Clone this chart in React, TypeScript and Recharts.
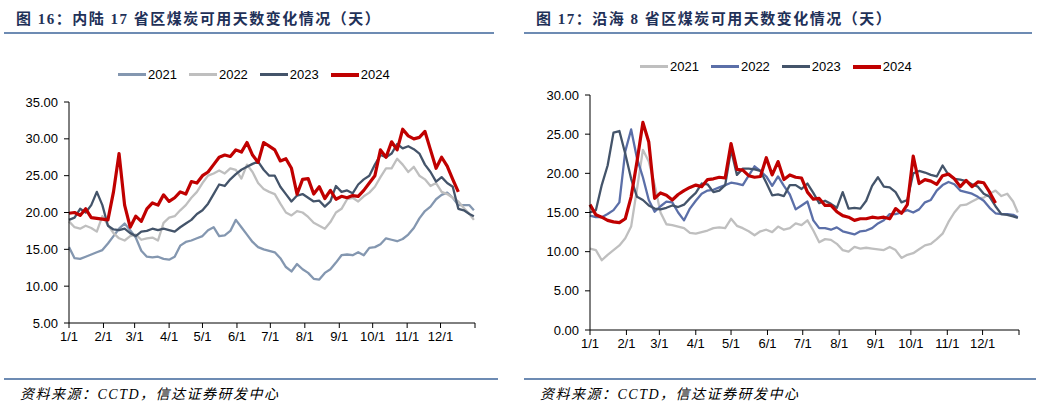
import React from 'react';
import { LineChart, Line, XAxis, YAxis } from 'recharts';

// day of year, sampled every 5 days
const days = [
  0, 5, 10, 15, 20, 25, 30, 35, 40, 45, 50, 55, 60, 65, 70, 75, 80, 85, 90, 95,
  100, 105, 110, 115, 120, 125, 130, 135, 140, 145, 150, 155, 160, 165, 170, 175, 180, 185, 190, 195,
  200, 205, 210, 215, 220, 225, 230, 235, 240, 245, 250, 255, 260, 265, 270, 275, 280, 285, 290, 295,
  300, 305, 310, 315, 320, 325, 330, 335, 340, 345, 350, 355, 360, 364,
];

const monthTicks = [0, 31, 59, 90, 120, 151, 181, 212, 243, 273, 304, 334, 365];
const monthLabels = ['1/1', '2/1', '3/1', '4/1', '5/1', '6/1', '7/1', '8/1', '9/1', '10/1', '11/1', '12/1', ''];
const years = ['2021', '2022', '2023', '2024'];

// 内陆17省
const inland2021 = [
  15.3, 13.8, 13.7, 14.0, 14.3, 14.6, 14.9, 15.8, 16.8, 17.8, 18.5, 17.6, 16.6, 14.8, 14.0, 13.9, 14.0, 13.7, 13.6, 14.0,
  15.5, 16.0, 16.2, 16.5, 16.8, 17.6, 18.0, 16.8, 16.9, 17.5, 19.0, 18.0, 17.0, 16.0, 15.3, 15.0, 14.8, 14.6, 13.8, 12.6,
  12.0, 13.0, 12.3, 11.8, 11.0, 10.9, 11.8, 12.3, 13.2, 14.2, 14.3, 14.2, 14.6, 14.2, 15.2, 15.3, 15.7, 16.5, 16.3, 16.1,
  16.4, 17.0, 17.9, 19.2, 20.2, 20.8, 21.8, 22.4, 22.7, 22.0, 21.0, 21.0, 21.0, 20.3,
];
const inland2022 = [
  18.8, 18.0, 17.8, 18.2, 17.9, 17.4, 19.5, 18.3, 17.2, 16.5, 16.2, 16.8, 17.0, 16.3, 16.5, 16.6, 16.2, 18.6, 19.3, 19.5,
  20.3, 21.0, 22.0, 22.8, 24.0, 25.0, 25.3, 25.7, 25.3, 26.0, 25.8, 24.6, 26.5, 25.5, 24.0, 23.2, 22.8, 22.5, 21.2, 20.0,
  19.6, 20.2, 20.0, 19.4, 18.6, 18.2, 17.8, 18.7, 20.0, 20.5, 21.8, 22.0, 21.5, 22.2, 22.7, 23.5, 24.8, 26.0, 26.0, 27.3,
  26.5, 25.5, 26.2, 25.0, 24.5, 23.6, 24.0, 22.8, 22.5, 22.0, 21.5, 20.6, 19.8, 19.0,
];
const inland2023 = [
  19.0, 19.3, 20.5, 20.0, 21.0, 22.8, 21.0, 18.2, 17.7, 17.6, 17.8, 17.2, 16.8, 17.4, 17.5, 17.8, 17.6, 17.8, 17.6, 17.4,
  18.0, 18.5, 19.0, 19.8, 20.3, 21.2, 22.5, 23.8, 23.6, 24.5, 25.2, 25.8, 26.2, 26.6, 26.9, 25.8, 25.0, 25.0, 23.5, 22.5,
  21.5, 22.3, 22.5, 22.0, 21.5, 21.6, 20.8, 21.5, 23.6, 22.8, 23.0, 22.6, 23.8, 24.5, 25.0, 26.5, 27.8, 27.5, 28.0, 29.3,
  28.7, 29.0, 28.6, 28.0, 26.5, 25.5, 24.2, 24.8, 24.0, 23.5, 20.5, 20.3, 19.8, 19.5,
];
const inland2024 = [
  19.9, 20.0, 19.6, 20.5, 19.3, 19.2, 19.1, 19.0, 22.8, 28.0, 21.0, 18.0, 19.5, 18.8, 20.5, 21.3, 21.0, 22.4, 21.5, 22.0,
  22.8, 22.5, 24.2, 24.0, 25.0, 25.5, 26.5, 27.5, 27.8, 27.6, 28.5, 28.2, 29.5, 27.8, 26.8, 29.5, 29.0, 28.5, 27.0, 27.3,
  26.0, 22.5, 24.5, 24.6, 22.5, 23.5, 21.9, 23.0, 21.8, 22.2, 22.0, 22.3, 22.2, 23.0, 24.0, 25.0, 28.5, 27.5, 29.6, 28.5,
  31.3, 30.4, 30.0, 30.2, 31.0, 28.5, 26.0, 27.5, 26.3, 24.5, 22.8, null, null, null,
];

// 沿海8省
const coastal2021 = [
  10.4, 10.2, 8.9, 9.6, 10.2, 10.8, 11.7, 13.2, 18.0, 23.0, 21.5, 18.5, 15.0, 13.5, 13.4, 13.2, 13.0, 12.4, 12.3, 12.5,
  12.7, 13.0, 13.1, 13.0, 14.2, 13.3, 13.0, 12.6, 12.1, 12.6, 12.8, 12.5, 13.2, 12.8, 13.0, 13.6, 13.4, 14.0, 12.7, 11.2,
  11.6, 11.5, 11.0, 10.2, 10.0, 10.6, 10.4, 10.5, 10.4, 10.3, 10.2, 10.6, 10.2, 9.2, 9.6, 9.8, 10.3, 10.8, 11.0, 11.6,
  12.3, 13.8, 15.0, 15.9, 16.0, 16.4, 16.8, 16.9, 17.4, 17.8, 17.1, 17.4, 16.4, 15.0,
];
const coastal2022 = [
  14.6, 14.4, 14.4, 14.8, 15.3, 16.3, 22.8, 25.6, 21.9, 19.5, 16.6, 15.1, 15.8, 16.4, 16.3, 15.0, 14.0, 15.5, 16.5, 17.4,
  17.8, 17.9, 18.2, 18.5, 18.8, 18.7, 18.5, 19.7, 20.9, 20.3, 19.6, 18.4, 19.6, 18.4, 17.3, 15.4, 15.9, 16.4, 14.0, 13.0,
  13.0, 12.8, 13.1, 12.6, 12.4, 12.2, 12.6, 12.7, 13.0, 13.6, 14.0, 14.8, 14.8, 15.0, 15.3, 15.0, 15.4, 16.3, 16.6, 17.8,
  18.5, 18.9, 18.6, 17.8, 17.6, 17.4, 17.0, 16.5, 15.6, 14.9, 14.8, 14.8, 14.7, 14.4,
];
const coastal2023 = [
  15.0, 15.3, 18.5, 21.0, 25.2, 25.4, 22.5, 19.3, 17.0, 16.6, 15.9, 15.5, 15.4, 15.6, 15.9, 15.7, 16.0, 16.8, 17.5, 18.7,
  18.6, 17.6, 17.8, 18.5, 23.0, 19.8, 20.6, 20.6, 20.5, 20.3, 18.8, 17.2, 17.3, 17.1, 18.5, 18.5, 18.0, 18.7, 17.5, 16.2,
  16.5, 16.1, 15.6, 17.6, 15.5, 15.6, 15.5, 16.5, 18.4, 19.5, 18.3, 18.2, 17.6, 16.3, 16.6, 20.0, 20.3, 20.1, 19.8, 19.6,
  21.0, 19.8, 19.3, 19.2, 19.0, 18.6, 18.3, 17.4, 17.0, 15.8, 14.8, 14.7, 14.5, 14.3,
];
const coastal2024 = [
  16.0, 14.7, 14.4, 14.0, 13.8, 13.7, 14.2, 17.0, 21.5, 26.5, 24.0, 16.8, 17.5, 17.2, 16.6, 17.3, 17.8, 18.2, 18.5, 18.3,
  19.2, 19.3, 19.5, 19.4, 23.8, 20.5, 20.4, 19.7, 19.5, 19.6, 22.0, 19.8, 21.5, 19.2, 19.8, 19.5, 19.4, 17.6, 16.7, 16.8,
  15.9, 15.9, 15.1, 14.6, 14.4, 14.0, 14.2, 14.2, 14.4, 14.3, 14.4, 14.2, 15.5, 14.9, 16.0, 22.2, 18.7, 19.2, 19.0, 18.6,
  19.7, 19.9, 19.3, 18.3, 19.1, 18.3, 18.9, 18.8, 17.6, 16.2, null, null, null, null,
];

const inlandColors = ['#8497B0', '#BFBFBF', '#44546A', '#C00000'];
const coastalColors = ['#BFBFBF', '#5B6FA8', '#44546A', '#C00000'];

const axisFont = "'Liberation Sans', Arial, sans-serif";
const cjkSerif = "'Liberation Serif', 'Noto Sans CJK SC', serif";

function buildRows(series: (number | null)[][]) {
  return days.map((d, i) => {
    const row: Record<string, number | null> = { day: d };
    series.forEach((s, k) => {
      row['y' + k] = s[i];
    });
    return row;
  });
}

type PanelProps = {
  left: number;
  width: number;
  title: string;
  series: (number | null)[][];
  colors: string[];
  yDomain: [number, number];
  yTicks: number[];
  margin: { top: number; right: number; bottom: number; left: number };
  yWidth: number;
  legendLeft: number;
  legendTop: number;
};

function Panel(p: PanelProps) {
  const rows = buildRows(p.series);
  return (
    <div style={{ position: 'absolute', left: p.left, top: 0, width: p.width, height: 406 }}>
      <div
        style={{
          position: 'absolute',
          left: 16,
          top: 7,
          fontFamily: cjkSerif,
          fontWeight: 700,
          fontSize: 15,
          letterSpacing: 1.5,
          color: '#1F3158',
          whiteSpace: 'nowrap',
        }}
      >
        {p.title}
      </div>
      <div style={{ position: 'absolute', left: 4, top: 32, width: p.width - 12, height: 2, background: '#6D8BB3' }} />

      <div
        style={{
          position: 'absolute',
          left: p.legendLeft,
          top: p.legendTop,
          display: 'flex',
          gap: 12,
          fontFamily: axisFont,
          fontSize: 13,
          color: '#000',
        }}
      >
        {years.map((y, k) => (
          <div key={y} style={{ display: 'flex', alignItems: 'center', gap: 2 }}>
            <div style={{ width: 28, height: k === 3 ? 4 : 3, background: p.colors[k] }} />
            <span>{y}</span>
          </div>
        ))}
      </div>

      <LineChart width={p.width} height={406} data={rows} margin={p.margin}>
        <XAxis
          dataKey="day"
          type="number"
          domain={[0, 365]}
          ticks={monthTicks}
          interval={0}
          tickFormatter={(v: number) => monthLabels[monthTicks.indexOf(v)]}
          height={30}
          stroke="#000"
          tickSize={5}
          tickMargin={4}
          tick={{ fill: '#000', fontSize: 13, fontFamily: axisFont }}
        />
        <YAxis
          type="number"
          domain={p.yDomain}
          ticks={p.yTicks}
          interval={0}
          tickFormatter={(v: number) => v.toFixed(2)}
          width={p.yWidth}
          stroke="#000"
          tickSize={5}
          tickMargin={6}
          tick={{ fill: '#000', fontSize: 13, fontFamily: axisFont }}
        />
        {years.map((y, k) => (
          <Line
            key={y}
            dataKey={'y' + k}
            name={y}
            type="linear"
            stroke={p.colors[k]}
            strokeWidth={k === 3 ? 3.2 : 2.3}
            strokeLinejoin="round"
            dot={false}
            isAnimationActive={false}
          />
        ))}
      </LineChart>

      <div style={{ position: 'absolute', left: 4, top: 378, width: p.width - 8, height: 2, background: '#6D8BB3' }} />
      <div
        style={{
          position: 'absolute',
          left: 20,
          top: 383,
          fontFamily: cjkSerif,
          fontStyle: 'italic',
          fontSize: 14,
          letterSpacing: 1.5,
          color: '#000',
          whiteSpace: 'nowrap',
        }}
      >
        资料来源：CCTD，信达证券研发中心
      </div>
    </div>
  );
}

export default function App() {
  return (
    <div
      style={{
        position: 'absolute',
        left: 0,
        top: 0,
        width: 1040,
        height: 406,
        background: '#fff',
        overflow: 'hidden',
      }}
    >
      <Panel
        left={0}
        width={502}
        title="图 16：内陆 17 省区煤炭可用天数变化情况（天）"
        series={[inland2021, inland2022, inland2023, inland2024]}
        colors={inlandColors}
        yDomain={[5, 35]}
        yTicks={[5, 10, 15, 20, 25, 30, 35]}
        margin={{ top: 102, right: 27, bottom: 53, left: 0 }}
        yWidth={69}
        legendLeft={118}
        legendTop={67}
      />
      <Panel
        left={520}
        width={520}
        title="图 17：沿海 8 省区煤炭可用天数变化情况（天）"
        series={[coastal2021, coastal2022, coastal2023, coastal2024]}
        colors={coastalColors}
        yDomain={[0, 30]}
        yTicks={[0, 5, 10, 15, 20, 25, 30]}
        margin={{ top: 95, right: 21, bottom: 46, left: 0 }}
        yWidth={70}
        legendLeft={120}
        legendTop={59}
      />
    </div>
  );
}
